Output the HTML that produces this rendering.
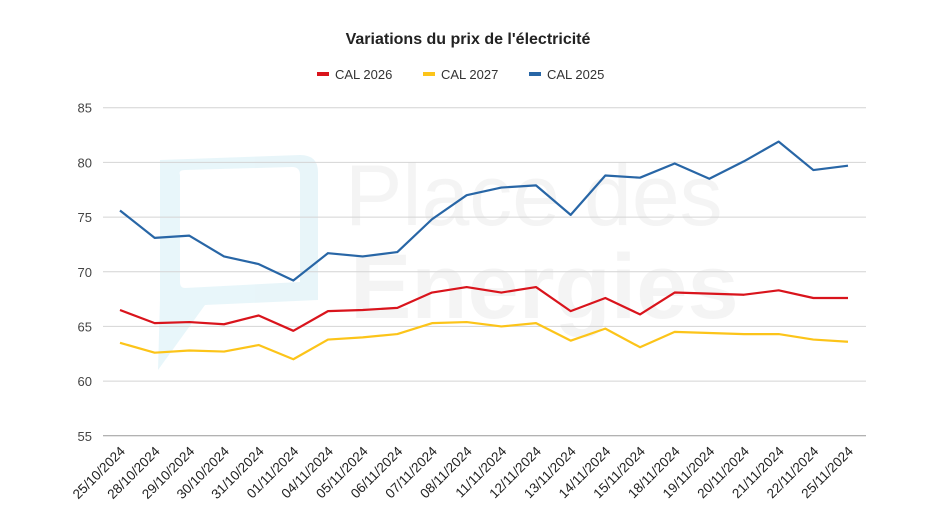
<!DOCTYPE html>
<html><head><meta charset="utf-8"><style>
body{margin:0;background:#fff;font-family:"Liberation Sans",Arial,sans-serif;}
svg{display:block}
</style></head><body>
<svg id="chart" width="936" height="526">
<g opacity="0.6">
<path d="M160 160 L300 155 Q318 155 318 172 L318 300 L205 305 L158 370 L160 300 Z M180 175 Q178 170 185 170 L292 167 Q300 167 300 175 L300 282 L185 288 Q180 288 180 282 Z" fill="#d9f0f6" fill-rule="evenodd"/>
<text x="345" y="225" font-size="86" fill="#eeeeee">Place des</text>
<text x="350" y="318" font-size="92" font-weight="bold" fill="#eeeeee">Energies</text>
</g>
<text x="468" y="44" text-anchor="middle" font-size="16" font-weight="bold" fill="#222">Variations du prix de l'électricité</text>
<g id="legend"></g>
<g id="grid"></g>
<g id="series"></g>
<g id="xlabels"></g>
</svg>
<script>
const categories=["25/10/2024","28/10/2024","29/10/2024","30/10/2024","31/10/2024","01/11/2024","04/11/2024","05/11/2024","06/11/2024","07/11/2024","08/11/2024","11/11/2024","12/11/2024","13/11/2024","14/11/2024","15/11/2024","18/11/2024","19/11/2024","20/11/2024","21/11/2024","22/11/2024","25/11/2024"];
const cal2026=[66.5,65.3,65.4,65.2,66.0,64.6,66.4,66.5,66.7,68.1,68.6,68.1,68.6,66.4,67.6,66.1,68.1,68.0,67.9,68.3,67.6,67.6];
const cal2027=[63.5,62.6,62.8,62.7,63.3,62.0,63.8,64.0,64.3,65.3,65.4,65.0,65.3,63.7,64.8,63.1,64.5,64.4,64.3,64.3,63.8,63.6];
const cal2025=[75.6,73.1,73.3,71.4,70.7,69.2,71.7,71.4,71.8,74.8,77.0,77.7,77.9,75.2,78.8,78.6,79.9,78.5,80.1,81.9,79.3,79.7];
const yTicks=[55,60,65,70,75,80,85];
const seriesNames=["CAL 2026","CAL 2027","CAL 2025"];
const seriesColors=["#d9141c","#fcc419","#2866a6"];
const NS="http://www.w3.org/2000/svg";
const L=103,R=866,xFirst=120,xLast=848;
function x(i){return xFirst+(xLast-xFirst)*i/(categories.length-1);}
function y(v){return 435.8-(v-55)*(435.8-107.7)/30;}
function mk(t,a,p){const e=document.createElementNS(NS,t);for(const k in a)e.setAttribute(k,a[k]);p.appendChild(e);return e;}
const grid=document.getElementById('grid');
yTicks.forEach(v=>{
 const l=mk('line',{x1:L,x2:R,y1:y(v),y2:y(v),stroke:v===55?'#999':'#d4d4d4','stroke-width':1},grid);
 
 
 const t=mk('text',{x:92,y:y(v)+5,'text-anchor':'end','font-size':13,fill:'#444'},grid);
 t.textContent=v;
 
 
});
const xl=document.getElementById('xlabels');
categories.forEach((c,i)=>{
 const t=mk('text',{x:x(i)+6,y:452,'text-anchor':'end','font-size':13.5,fill:'#222',transform:`rotate(-45 ${x(i)+6} 452)`},xl);
 t.textContent=c;
 
 
});
const ser=document.getElementById('series');
[cal2026,cal2027,cal2025].forEach((d,k)=>{
 const p=mk('polyline',{points:d.map((v,i)=>x(i)+','+y(v)).join(' '),fill:'none',stroke:seriesColors[k],'stroke-width':2.2,'stroke-linejoin':'round'},ser);
 
 
});
const lg=document.getElementById('legend');
const lx=[317,423,529];
seriesNames.forEach((n,k)=>{
 const g=mk('g',{},lg);
 
 
 mk('rect',{x:lx[k],y:72,width:12,height:4,fill:seriesColors[k]},g);
 const t=mk('text',{x:lx[k]+18,y:79,'font-size':13,fill:'#333'},g);
 t.textContent=n;
});
</script>
</body></html>
